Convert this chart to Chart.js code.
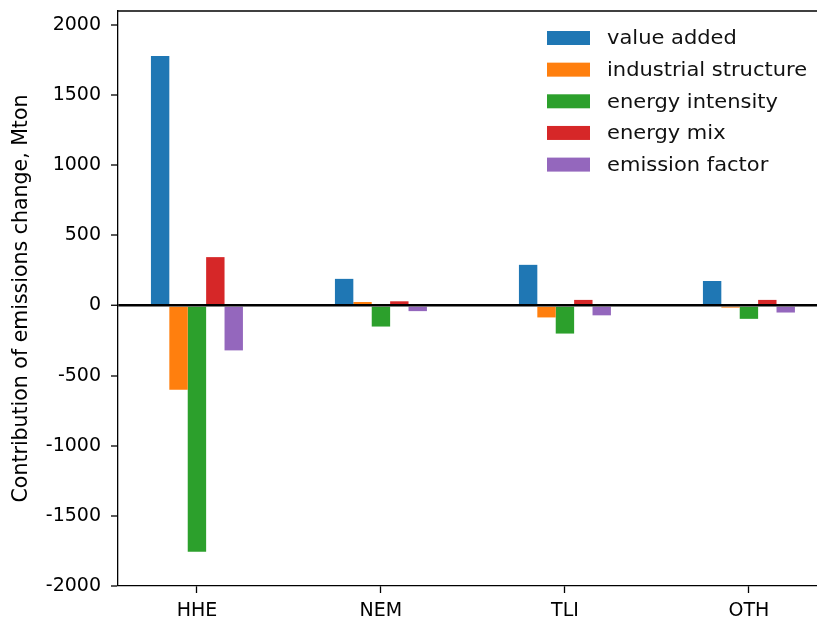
<!DOCTYPE html>
<html lang="en">

<head>
    <meta charset="UTF-8" />
    <script src="https://cdn.jsdelivr.net/npm/chart.js@4.4.0/dist/chart.umd.min.js"></script>
    <style>
        body { margin: 0; background: #fff; overflow: hidden; }
    </style>
</head>

<body>
    <canvas id="chart" width="817" height="619"></canvas>
    <script>
        const categories = ['HHE', 'NEM', 'TLI', 'OTH'];
        const seriesNames = ['value added', 'industrial structure', 'energy intensity', 'energy mix', 'emission factor'];
        const valueAdded = [1780, 190, 290, 175];
        const industrialStructure = [-600, 25, -85, -15];
        const energyIntensity = [-1755, -150, -200, -95];
        const energyMix = [345, 30, 40, 40];
        const emissionFactor = [-320, -40, -70, -50];
        const yTicks = [-2000, -1500, -1000, -500, 0, 500, 1000, 1500, 2000];
        const colors = ['#1f77b4', '#ff7f0e', '#2ca02c', '#d62728', '#9467bd'];

        const allSeries = [valueAdded, industrialStructure, energyIntensity, energyMix, emissionFactor];

        Chart.defaults.font.family = 'DejaVu Sans';
        Chart.defaults.font.size = 19;
        Chart.defaults.color = '#000';

        // matplotlib style frame: top spine + legend inside the axes
        const framePlugin = {
            id: 'frame',
            afterDraw(chart) {
                const ctx = chart.ctx;
                const area = chart.chartArea;
                ctx.save();
                ctx.strokeStyle = '#000';
                ctx.lineWidth = 1.3;
                ctx.beginPath();
                ctx.moveTo(area.left, area.top);
                ctx.lineTo(area.right, area.top);
                ctx.stroke();

                ctx.font = '20px "DejaVu Sans"';
                ctx.textBaseline = 'middle';
                chart.data.datasets.forEach((ds, i) => {
                    const y = 38 + i * 31.65;
                    ctx.fillStyle = ds.backgroundColor;
                    ctx.fillRect(547, y - 7, 43, 14);
                    ctx.fillStyle = '#111';
                    ctx.save();
                    ctx.translate(607, y + 1);
                    ctx.scale(1.05, 1);
                    ctx.fillText(ds.label, 0, 0);
                    ctx.restore();
                });
                ctx.restore();
            }
        };

        const ctx = document.getElementById('chart').getContext('2d');
        const myChart = new Chart(ctx, {
            type: 'bar',
            data: {
                datasets: allSeries.map((vals, i) => ({
                    label: seriesNames[i],
                    data: vals.map((v, j) => ({ x: j, y: v })),
                    backgroundColor: colors[i],
                    borderWidth: 0,
                    categoryPercentage: 0.5,
                    barPercentage: 1.0
                }))
            },
            options: {
                responsive: false,
                animation: false,
                layout: { padding: { top: 11, left: 0, right: 0, bottom: 0 } },
                plugins: {
                    legend: { display: false },
                    tooltip: { enabled: false }
                },
                scales: {
                    x: {
                        type: 'linear',
                        offset: false,
                        min: -0.429,
                        max: 3.37,
                        afterFit: scale => {
                            scale.height = 33;
                            scale.paddingLeft = 0;
                            scale.paddingRight = 0;
                        },
                        afterBuildTicks: scale => {
                            scale.ticks = categories.map((c, i) => ({ value: i }));
                        },
                        ticks: {
                            padding: 7,
                            maxRotation: 0,
                            callback: v => categories[v]
                        },
                        grid: {
                            offset: false,
                            drawOnChartArea: false,
                            tickLength: 7,
                            tickColor: '#000',
                            tickWidth: 1.3
                        },
                        border: { color: '#000', width: 1.3 }
                    },
                    y: {
                        min: -2000,
                        max: 2100,
                        afterFit: scale => {
                            scale.width = 118;
                            scale.paddingTop = 0;
                            scale.paddingBottom = 0;
                        },
                        afterBuildTicks: scale => {
                            scale.ticks = yTicks.map(v => ({ value: v }));
                        },
                        ticks: {
                            padding: 10,
                            callback: v => String(v)
                        },
                        grid: {
                            z: 1,
                            tickLength: 7,
                            tickColor: '#000',
                            tickWidth: 1.3,
                            color: c => c.tick && c.tick.value === 0 ? '#000' : 'rgba(0,0,0,0)',
                            lineWidth: c => c.tick && c.tick.value === 0 ? 2.5 : 0
                        },
                        border: { color: '#000', width: 1.3, z: 2 },
                        title: {
                            display: true,
                            text: 'Contribution of emissions change, Mton',
                            font: { size: 20.5 },
                            padding: { top: 9, bottom: 0 }
                        }
                    }
                }
            },
            plugins: [framePlugin]
        });
    </script>
</body>

</html>
